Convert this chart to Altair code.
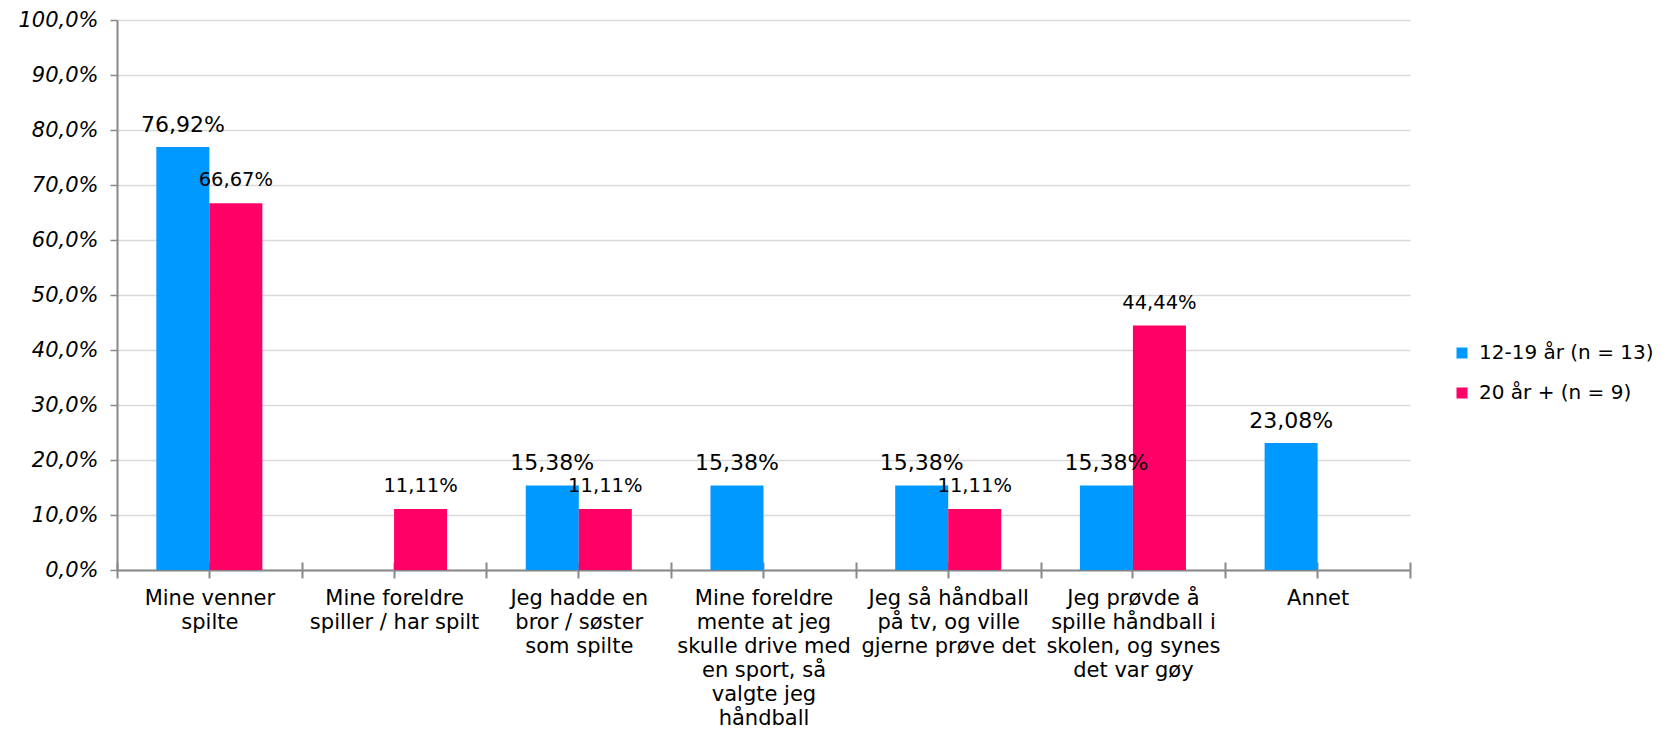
import altair as alt
import pandas as pd

categories = [
    "Mine venner|spilte",
    "Mine foreldre|spiller / har spilt",
    "Jeg hadde en|bror / søster|som spilte",
    "Mine foreldre|mente at jeg|skulle drive med|en sport, så|valgte jeg|håndball",
    "Jeg så håndball|på tv, og ville|gjerne prøve det",
    "Jeg prøvde å|spille håndball i|skolen, og synes|det var gøy",
    "Annet",
]
series = ["12-19 år (n = 13)", "20 år + (n = 9)"]
values_young = [76.92, None, 15.38, 15.38, 15.38, 15.38, 23.08]
values_adult = [66.67, 11.11, 11.11, None, 11.11, 44.44, None]
colors = ["#0099FF", "#FF0066"]

rows = []
for s, vals in zip(series, [values_young, values_adult]):
    for c, v in zip(categories, vals):
        if v is not None:
            rows.append({"cat": c, "series": s, "value": v})
df = pd.DataFrame(rows)

FONT = "DejaVu Sans"
AXIS_GRAY = "#888888"

xscale = alt.Scale(paddingInner=0, paddingOuter=0)


def xenc(axis):
    return alt.X("cat:N", sort=categories, scale=xscale, axis=axis, title=None)


yenc = alt.Y(
    "value:Q",
    scale=alt.Scale(domain=[0, 100], nice=False),
    axis=alt.Axis(
        values=[0, 10, 20, 30, 40, 50, 60, 70, 80, 90, 100],
        labelExpr="replace(format(datum.value, '.1f'), '.', ',') + '%'",
        labelFont=FONT,
        labelFontSize=21,
        labelFontStyle="italic",
        labelColor="#000000",
        labelPadding=12,
        tickSize=7,
        tickColor=AXIS_GRAY,
        tickWidth=1.5,
        domainColor=AXIS_GRAY,
        domainWidth=2,
        grid=True,
        gridColor="#d9d9d9",
        gridWidth=1.5,
    ),
    title=None,
)

xoff = alt.XOffset(
    "series:N", sort=series, scale=alt.Scale(paddingInner=0, paddingOuter=0.742)
)
color = alt.Color(
    "series:N",
    sort=series,
    scale=alt.Scale(domain=series, range=colors),
    legend=alt.Legend(
        title=None,
        orient="none",
        legendX=1335,
        legendY=323,
        symbolType="square",
        symbolSize=121,
        symbolStrokeWidth=0,
        labelFont=FONT,
        labelFontSize=20,
        labelColor="#000000",
        labelOffset=7,
        labelLimit=400,
        rowPadding=20,
        padding=0,
    ),
)

axis_main = alt.Axis(
    orient="bottom",
    labelExpr="split(datum.label, '|')",
    labelFont=FONT,
    labelFontSize=21,
    labelLineHeight=24,
    labelColor="#000000",
    labelAngle=0,
    labelPadding=9,
    labelLimit=400,
    labelOverlap=False,
    labelBound=False,
    tickBand="extent",
    tickSize=8,
    tickColor=AXIS_GRAY,
    tickWidth=2,
    domainColor=AXIS_GRAY,
    domainWidth=2,
    grid=False,
)
axis_center = alt.Axis(orient="bottom", labels=False, domain=False, grid=False,
                       bandPosition=0.5, tickSize=8, tickColor=AXIS_GRAY, tickWidth=2)
axis_extent_in = alt.Axis(orient="bottom", labels=False, domain=False, grid=False,
                          tickBand="extent", tickSize=8, tickColor=AXIS_GRAY,
                          tickWidth=2, offset=-8)
axis_center_in = alt.Axis(orient="bottom", labels=False, domain=False, grid=False,
                          bandPosition=0.5, tickSize=8, tickColor=AXIS_GRAY,
                          tickWidth=2, offset=-8)

base = alt.Chart(df)

bars_young = base.transform_filter(alt.datum.series == series[0]).mark_bar().encode(
    x=xenc(axis_main), xOffset=xoff, y=yenc, color=color
)
bars_adult = base.transform_filter(alt.datum.series == series[1]).mark_bar().encode(
    x=xenc(axis_center), xOffset=xoff, y=yenc, color=color
)

lbl = "replace(format(datum.value, '.2f'), '.', ',') + '%'"
text_young = base.transform_filter(alt.datum.series == series[0]).transform_calculate(
    lbl=lbl
).mark_text(font=FONT, fontSize=22, color="#000000", baseline="alphabetic", dy=-15).encode(
    x=xenc(axis_extent_in), xOffset=xoff, y=yenc, text="lbl:N"
)
text_adult = base.transform_filter(alt.datum.series == series[1]).transform_calculate(
    lbl=lbl
).mark_text(font=FONT, fontSize=19.5, color="#000000", baseline="alphabetic", dy=-17).encode(
    x=xenc(axis_center_in), xOffset=xoff, y=yenc, text="lbl:N"
)

chart = (
    alt.layer(bars_young, bars_adult, text_young, text_adult)
    .resolve_axis(x="independent")
    .resolve_scale(x="shared")
    .properties(
        width=1293,
        height=550,
        autosize=alt.AutoSizeParams(type="none"),
        padding={"left": 109, "top": 12, "right": 245, "bottom": 160},
        background="white",
    )
    .configure_view(stroke=None)
)

chart.save("out.html", embed_options={"renderer": "svg", "actions": False})
